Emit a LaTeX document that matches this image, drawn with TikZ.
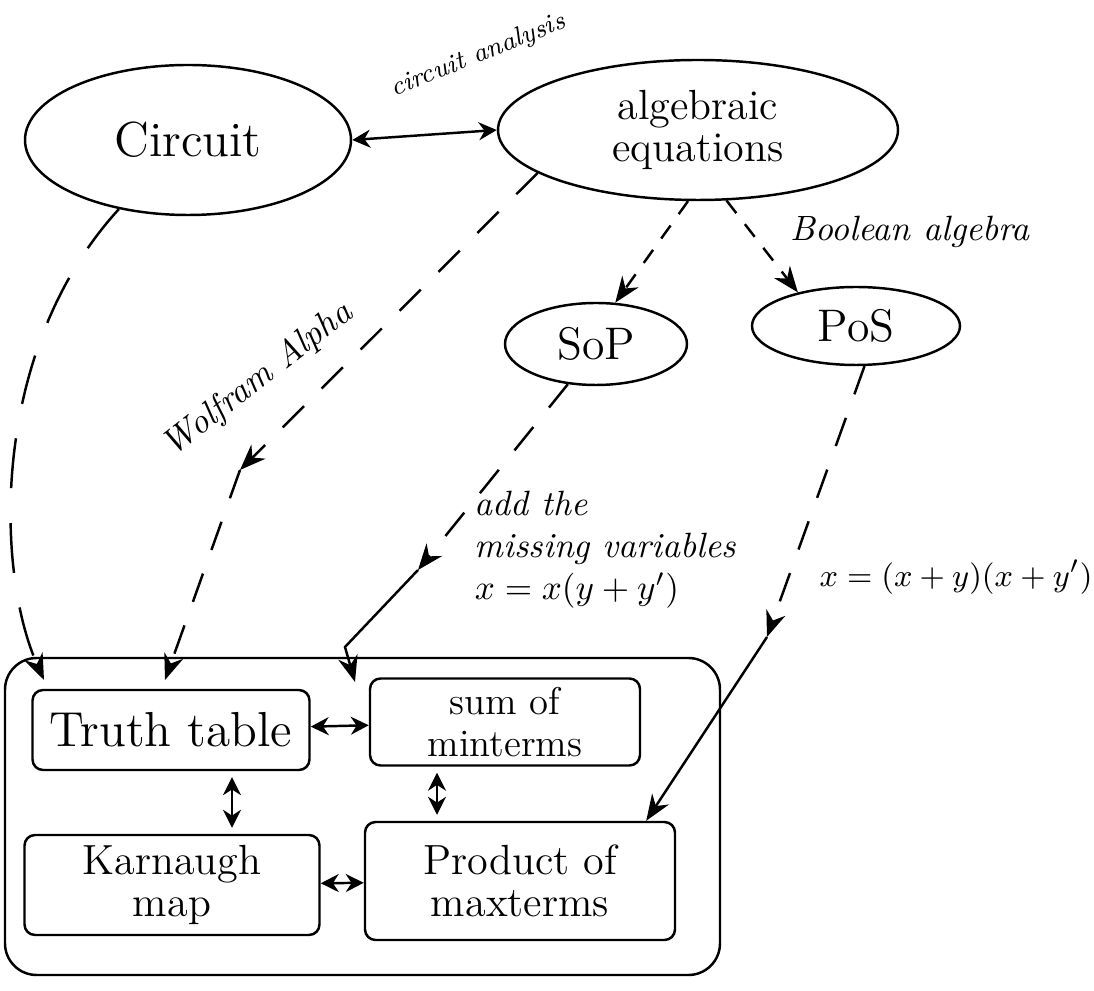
\documentclass[tikz,border=0pt]{standalone}
\usetikzlibrary{shapes.geometric,arrows.meta}
\tikzset{
  bubble/.style={draw,ellipse,inner sep=0pt,align=center},
  panel/.style={draw,rounded corners=3pt,inner sep=0pt,align=center},
  link/.style={-{Stealth[length=2.6mm,width=2mm]}},
  twoway/.style={{Stealth[length=1.8mm,width=1.8mm]}-{Stealth[length=1.8mm,width=1.8mm]}},
  longdash/.style={dash pattern=on 5mm off 3.5mm},
  middash/.style={dash pattern=on 3mm off 2.5mm},
  shortdash/.style={dash pattern=on 1.6mm off 1.4mm},
  note/.style={font=\itshape\fontsize{10}{12}\selectfont}
}
\begin{document}
\begin{tikzpicture}[x=1cm,y=1cm,line width=0.7pt]
\path[use as bounding box] (0,0) rectangle (10.94,9.90);
% ovals
\node[bubble,minimum width=3.26cm,minimum height=1.50cm] (circuit) at (1.88,8.50) {\fontsize{14}{16}\selectfont Circuit};
\node[bubble,minimum width=4.00cm,minimum height=1.40cm] (alg) at (6.98,8.60) {\fontsize{12}{14}\selectfont algebraic\\ \fontsize{12}{14}\selectfont equations};
\node[bubble,minimum width=1.82cm,minimum height=0.82cm] (sop) at (5.96,6.46) {\fontsize{13}{15}\selectfont SoP};
\node[bubble,minimum width=2.08cm,minimum height=0.78cm] (pos) at (8.56,6.64) {\fontsize{13}{15}\selectfont PoS};
% group of forms
\node[draw,rounded corners=9pt,minimum width=7.15cm,minimum height=3.17cm] (forms) at (3.625,1.735) {};
\node[panel,minimum width=2.77cm,minimum height=0.80cm] (truth) at (1.71,2.60) {\fontsize{14}{16}\selectfont Truth table};
\node[panel,minimum width=2.70cm,minimum height=0.87cm] (sum) at (5.05,2.68) {\fontsize{11}{12}\selectfont sum of\\ \fontsize{11}{12}\selectfont minterms};
\node[panel,minimum width=2.95cm,minimum height=1.00cm] (kmap) at (1.72,1.05) {\fontsize{12}{13}\selectfont Karnaugh\\ \fontsize{12}{13}\selectfont map};
\node[panel,minimum width=3.10cm,minimum height=1.18cm] (prod) at (5.20,1.09) {\fontsize{12}{14}\selectfont Product of\\ \fontsize{12}{14}\selectfont maxterms};
% ends and bends of the connectors
\coordinate (inC) at (0.44,3.10);
\coordinate (inW) at (1.65,3.10);
\coordinate (inS) at (3.55,3.08);
\coordinate (bendS) at (3.45,3.43);
\coordinate (midW) at (2.40,5.20);
\coordinate (midS) at (4.18,4.20);
\coordinate (midP) at (7.67,3.53);
% connectors
\draw[twoway] (circuit.east) -- (alg.west);
\node[rotate=22,font=\itshape\fontsize{7.5}{9}\selectfont] (lblAn) at (4.78,9.34) {circuit analysis};
\draw[longdash,link] (circuit.225) .. controls (-0.10,6.40) and (-0.05,4.20) .. (inC);
\draw[middash,link] (alg.195) -- (midW);
\draw[middash,link] (midW) -- (inW);
\node[note,rotate=38] (lblWolf) at (2.58,6.10) {Wolfram Alpha};
\draw[shortdash,link] (alg.262) -- (sop.65);
\draw[shortdash,link] (alg.292) -- (pos.150);
\node[note] (lblBool) at (9.10,7.58) {Boolean algebra};
\draw[middash,link] (sop.235) -- (midS);
\draw[link] (midS) -- (bendS) -- (inS);
\node[note,align=left,anchor=north west] (lblAdd) at (4.62,5.12) {add the\\ missing variables\\ $x = x(y+y')$};
\draw[middash,link] (pos.282) -- (midP);
\draw[link] (midP) -- ([xshift=-3mm]prod.north east);
\node[font=\fontsize{9.5}{11}\selectfont] (lblMax) at (9.56,4.13) {$x=(x+y)(x+y')$};
% between the forms
\draw[twoway] (truth) -- (sum);
\draw[twoway,shorten <=0.6mm,shorten >=0.6mm] (2.32,0 |- truth.south) -- (2.32,0 |- kmap.north);
\draw[twoway,shorten <=0.6mm,shorten >=0.6mm] (4.37,0 |- sum.south) -- (4.37,0 |- prod.north);
\draw[twoway] (kmap) -- (prod);
\end{tikzpicture}
\end{document}
